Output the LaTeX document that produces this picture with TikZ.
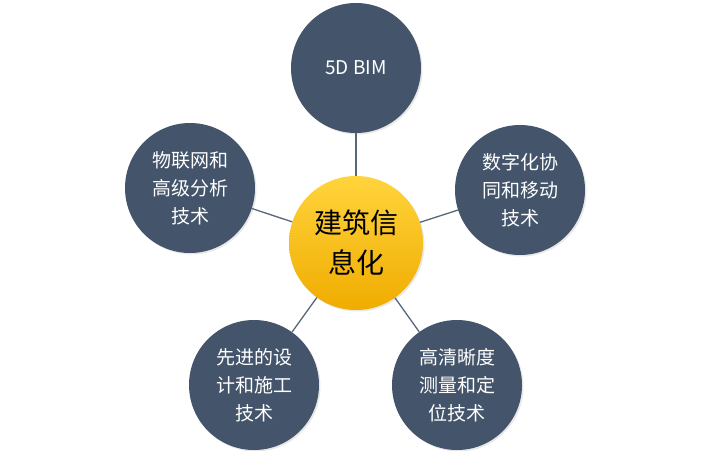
\documentclass[tikz,border=0pt]{standalone}
\usepackage{fontspec}
\newfontfamily\cjk{Noto Sans CJK SC}
\usetikzlibrary{shadows}
\definecolor{slate}{RGB}{68,84,106}
\definecolor{goldtop}{RGB}{255,212,60}
\definecolor{goldbot}{RGB}{240,172,0}
\definecolor{linkgray}{RGB}{88,102,122}

\begin{document}
\begin{tikzpicture}[x=1pt, y=-1pt,
    topic/.style={circle, fill=slate, minimum size=130pt, inner sep=0pt,
                  align=center, text=white, font=\cjk\fontsize{19}{28}\selectfont,
                  drop shadow={opacity=0.18, shadow xshift=1.5pt, shadow yshift=-1.5pt}},
    hub/.style={circle, minimum size=134pt, inner sep=0pt, top color=goldtop,
                bottom color=goldbot, align=center, font=\cjk\fontsize{28}{40}\selectfont,
                drop shadow={opacity=0.18, shadow xshift=1.5pt, shadow yshift=-1.5pt}},
    link/.style={draw=linkgray, line width=1.3pt}
]
\useasboundingbox (0,0) rectangle (711,450);
\node[hub] (core) at (356,243) {建筑信\\息化};
\node[topic] (bim) at (356,68) {5D BIM};
\node[topic] (mobile) at (520,190) {数字化协\\同和移动\\技术};
\node[topic] (iot) at (190,188) {物联网和\\高级分析\\技术};
\node[topic] (design) at (254,385) {先进的设\\计和施工\\技术};
\node[topic] (survey) at (457,385) {高清晰度\\测量和定\\位技术};

\draw[link] (core) -- (bim);
\draw[link] (core) -- (mobile);
\draw[link] (core) -- (iot);
\draw[link] (core) -- (design);
\draw[link] (core) -- (survey);
\end{tikzpicture}
\end{document}
